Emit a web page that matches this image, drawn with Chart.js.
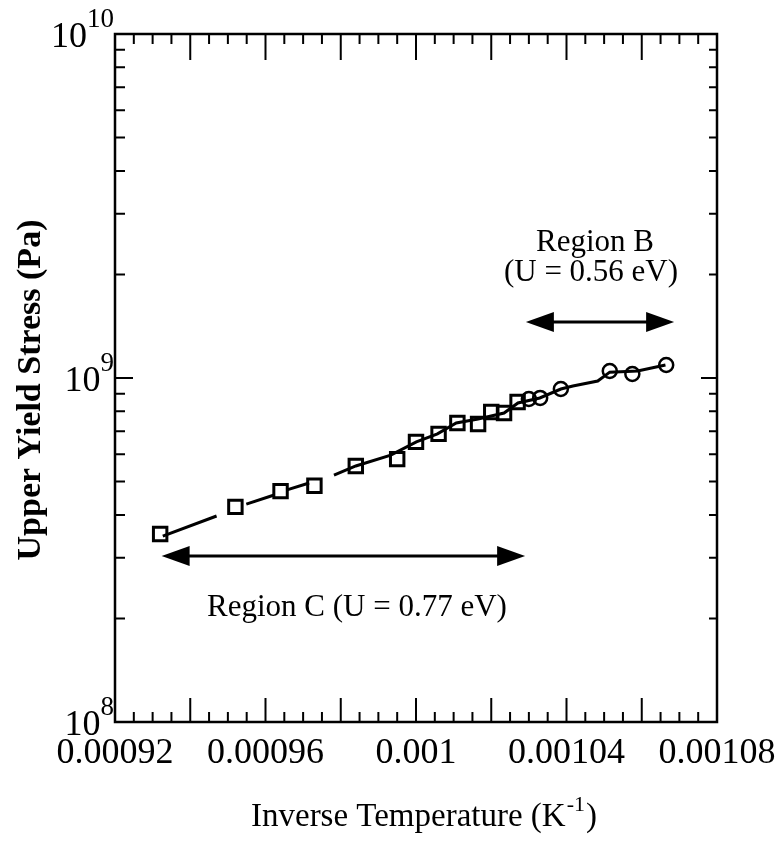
<!DOCTYPE html>
<html>
<head>
<meta charset="utf-8">
<script src="https://cdn.jsdelivr.net/npm/chart.js@4.4.1/dist/chart.umd.min.js"></script>
<style>
html, body { margin: 0; padding: 0; background: #fff; }
#wrap { width: 775px; height: 846px; }
</style>
</head>
<body>
<div id="wrap"><canvas id="stressChart" width="775" height="846"></canvas></div>
<script>
// Region C measurements (squares)
const regionCx = [0.000932, 0.000952, 0.000964, 0.000973, 0.000984, 0.000995, 0.001000,
                  0.001006, 0.001011, 0.0010165, 0.00102, 0.0010234, 0.001027];
const regionCy = [3.52e8, 4.22e8, 4.69e8, 4.86e8, 5.55e8, 5.81e8, 6.52e8,
                  6.88e8, 7.40e8, 7.35e8, 7.96e8, 7.91e8, 8.52e8];

// Region B measurements (circles)
const regionBx = [0.00103, 0.001033, 0.0010385, 0.0010515, 0.0010575, 0.0010665];
const regionBy = [8.69e8, 8.75e8, 9.29e8, 1.048e9, 1.027e9, 1.091e9];

// hand drawn fit line (null = gap)
const fitX = [0.0009327, 0.000947, null, 0.0009549, 0.0009623, null, 0.0009655, 0.0009716, null,
              0.0009782, 0.000984, 0.0009933, 0.0010001, 0.0010057, 0.0010107, 0.0010165,
              0.0010234, 0.0010271, 0.0010329, 0.0010385, 0.0010417, 0.0010483, 0.0010515,
              0.0010589, 0.0010663];
const fitY = [3.47e8, 3.97e8, null, 4.30e8, 4.57e8, null, 4.72e8, 4.95e8, null,
              5.22e8, 5.55e8, 5.97e8, 6.52e8, 6.88e8, 7.40e8, 7.60e8,
              7.91e8, 8.46e8, 8.75e8, 9.29e8, 9.48e8, 9.80e8, 1.04e9,
              1.048e9, 1.091e9];

// region arrows
const arrowCx = [0.0009324, 0.001029];
const arrowCy = 3.04e8;
const arrowBx = [0.0010292, 0.0010686];
const arrowBy = 1.455e9;

// axes
const xLabelTicks = [0.00092, 0.00096, 0.001, 0.00104, 0.00108];
const yDecades = [1e8, 1e9, 1e10];
const yExponents = ['8', '9', '10'];

const serif = "'Liberation Serif', 'Times New Roman', serif";

function toPoints(xs, ys) {
    return xs.map((v, i) => ({ x: v, y: ys[i] }));
}

function drawArrow(ctx, x1, x2, y) {
    const head = 28, half = 10;
    ctx.lineWidth = 3;
    ctx.beginPath();
    ctx.moveTo(x1 + head - 2, y);
    ctx.lineTo(x2 - head + 2, y);
    ctx.stroke();
    ctx.beginPath();
    ctx.moveTo(x1, y);
    ctx.lineTo(x1 + head, y - half);
    ctx.lineTo(x1 + head, y + half);
    ctx.closePath();
    ctx.fill();
    ctx.beginPath();
    ctx.moveTo(x2, y);
    ctx.lineTo(x2 - head, y - half);
    ctx.lineTo(x2 - head, y + half);
    ctx.closePath();
    ctx.fill();
}

const framePlugin = {
    id: 'framePlugin',
    afterDatasetsDraw(chart) {
        const { ctx, chartArea: a, scales: { x, y } } = chart;
        ctx.save();
        ctx.strokeStyle = '#000';
        ctx.fillStyle = '#000';

        // frame
        ctx.lineWidth = 2.5;
        ctx.strokeRect(a.left, a.top, a.right - a.left, a.bottom - a.top);

        // x ticks (inward, top and bottom)
        ctx.lineWidth = 2;
        for (let i = 0; i <= 32; i++) {
            const v = 0.00092 + i * 0.000005;
            const px = x.getPixelForValue(v);
            const major = i % 4 === 0;
            const lenB = major ? 24 : 10;
            const lenT = major ? 26 : 10;
            ctx.beginPath();
            ctx.moveTo(px, a.bottom);
            ctx.lineTo(px, a.bottom - lenB);
            ctx.moveTo(px, a.top);
            ctx.lineTo(px, a.top + lenT);
            ctx.stroke();
        }

        // y ticks (inward, left and right)
        yDecades.forEach((d, k) => {
            for (let m = 1; m <= 9; m++) {
                if (k === yDecades.length - 1 && m > 1) break;
                const py = y.getPixelForValue(d * m);
                const major = m === 1;
                ctx.beginPath();
                ctx.moveTo(a.left, py);
                ctx.lineTo(a.left + (major ? 18 : 10), py);
                ctx.moveTo(a.right, py);
                ctx.lineTo(a.right - (major ? 16 : 8), py);
                ctx.stroke();
            }
        });

        // y tick labels 10^n
        yDecades.forEach((d, k) => {
            const py = y.getPixelForValue(d);
            const baseFont = '36px ' + serif;
            const supFont = '27px ' + serif;
            ctx.textBaseline = 'alphabetic';
            ctx.textAlign = 'left';
            ctx.font = baseFont;
            const baseW = ctx.measureText('10').width;
            ctx.font = supFont;
            const supW = ctx.measureText(yExponents[k]).width;
            const right = a.left - 1;
            const left = right - baseW - supW;
            ctx.font = baseFont;
            ctx.fillText('10', left, py + 13);
            ctx.font = supFont;
            ctx.fillText(yExponents[k], left + baseW, py - 7);
        });

        // arrows
        drawArrow(ctx, x.getPixelForValue(arrowCx[0]), x.getPixelForValue(arrowCx[1]), y.getPixelForValue(arrowCy));
        drawArrow(ctx, x.getPixelForValue(arrowBx[0]), x.getPixelForValue(arrowBx[1]), y.getPixelForValue(arrowBy));

        // region labels
        ctx.font = '31px ' + serif;
        ctx.textAlign = 'center';
        ctx.textBaseline = 'middle';
        ctx.fillText('Region B', 595, 243);
        ctx.fillText('(U = 0.56 eV)', 591, 273);
        ctx.fillText('Region C (U = 0.77 eV)', 357, 608);

        // x axis title with superscript
        ctx.textAlign = 'left';
        ctx.textBaseline = 'alphabetic';
        const main = 'Inverse Temperature (K';
        ctx.font = '33px ' + serif;
        const mw = ctx.measureText(main).width;
        const cw = ctx.measureText(')').width;
        ctx.font = '22px ' + serif;
        const sw = ctx.measureText('-1').width;
        const tx = 423 - (mw + sw + cw) / 2;
        ctx.font = '33px ' + serif;
        ctx.fillText(main, tx, 826);
        ctx.font = '22px ' + serif;
        ctx.fillText('-1', tx + mw + 1, 811);
        ctx.font = '33px ' + serif;
        ctx.fillText(')', tx + mw + sw + 2, 826);

        // y axis title
        ctx.save();
        ctx.translate(31, 390);
        ctx.rotate(-Math.PI / 2);
        ctx.textAlign = 'center';
        ctx.textBaseline = 'middle';
        ctx.font = 'bold 34px ' + serif;
        ctx.fillText('Upper Yield Stress (Pa)', 0, 0);
        ctx.restore();

        ctx.restore();
    }
};

const ctx = document.getElementById('stressChart').getContext('2d');
const stressChart = new Chart(ctx, {
    type: 'scatter',
    data: {
        datasets: [
            {
                label: 'Fit',
                data: toPoints(fitX, fitY),
                showLine: true,
                spanGaps: false,
                borderColor: '#000',
                borderWidth: 3,
                pointRadius: 0,
                tension: 0,
            },
            {
                label: 'Region C',
                data: toPoints(regionCx, regionCy),
                pointStyle: 'rect',
                pointRadius: 9.5,
                borderColor: '#000',
                backgroundColor: 'rgba(0,0,0,0)',
                borderWidth: 3,
            },
            {
                label: 'Region B',
                data: toPoints(regionBx, regionBy),
                pointStyle: 'circle',
                pointRadius: 7,
                borderColor: '#000',
                backgroundColor: 'rgba(0,0,0,0)',
                borderWidth: 2.5,
            },
        ],
    },
    options: {
        responsive: false,
        animation: false,
        events: [],
        layout: { padding: { left: 0, right: 58, top: 34, bottom: 0 } },
        plugins: {
            legend: { display: false },
            tooltip: { enabled: false },
        },
        scales: {
            x: {
                type: 'linear',
                min: 0.00092,
                max: 0.00108,
                grid: { display: false, drawTicks: false },
                border: { display: false },
                afterBuildTicks: (scale) => {
                    scale.ticks = xLabelTicks.map(v => ({ value: v }));
                },
                afterFit: (scale) => {
                    scale.height = 124;
                    scale.paddingLeft = 0;
                    scale.paddingRight = 0;
                },
                ticks: {
                    autoSkip: false,
                    maxRotation: 0,
                    padding: 10,
                    color: '#000',
                    font: { family: serif, size: 36 },
                    callback: (v) => String(parseFloat(Number(v).toFixed(5))),
                },
            },
            y: {
                type: 'logarithmic',
                min: 1e8,
                max: 1e10,
                grid: { display: false, drawTicks: false },
                border: { display: false },
                ticks: { display: false },
                afterFit: (scale) => { scale.width = 115; },
            },
        },
    },
    plugins: [framePlugin],
});
</script>
</body>
</html>
